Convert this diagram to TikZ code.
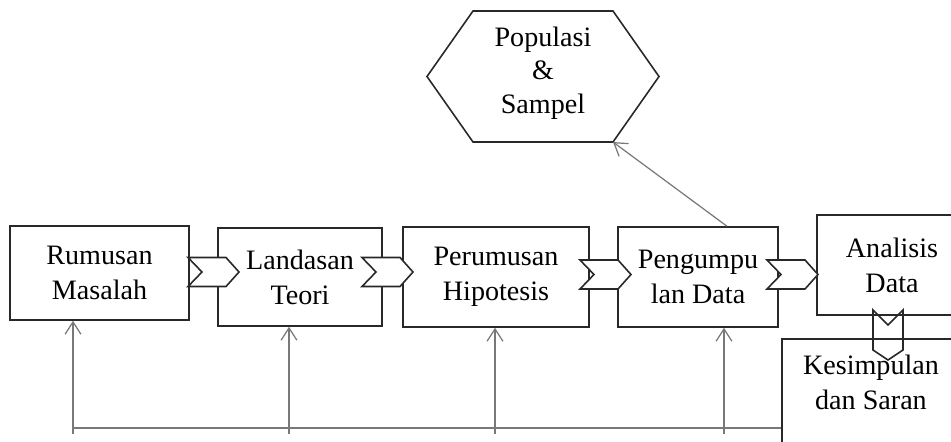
\documentclass[tikz,border=0pt]{standalone}
\usepackage{fontspec}
\setmainfont{Liberation Serif}
\usetikzlibrary{calc,arrows.meta}
\tikzset{>={Straight Barb[length=7pt,width=9pt]}}
\definecolor{mydark}{RGB}{40, 40, 40}
\definecolor{mygray}{RGB}{120, 120, 120}
\tikzset{
  box/.style = {draw = mydark, line width = 0.9pt, align = center, inner sep = 2pt,
                font = \fontsize{16}{20}\selectfont},
  chev/.style = {draw = mydark, line width = 0.9pt, fill = white},
  fb/.style = {draw = mygray, line width = 0.7pt},
  chevron/.pic = {\path[chev] (0,-14.5) -- (38,-14.5) -- (51,0) -- (38,14.5) -- (0,14.5) -- (14,0) -- cycle;},
  chevron down/.pic = {\path[chev, fill = none] (-15,0) -- (0,15) -- (15,0) -- (15,40) -- (0,50) -- (-15,40) -- cycle;}
}

\begin{document}
\begin{tikzpicture}[x = 0.02cm, y = -0.02cm]
\useasboundingbox (0,0) rectangle (951,441);
\clip (0,0) rectangle (951,441);
% the five steps
\node[box, minimum width = 3.58cm, minimum height = 1.88cm] (rm) at (99.5, 273) {Rumusan\\Masalah};
\node[box, minimum width = 3.28cm, minimum height = 1.96cm] (lt) at (300, 277) {Landasan\\Teori};
\node[box, minimum width = 3.72cm, minimum height = 2.0cm] (ph) at (496, 277) {Perumusan\\Hipotesis};
\node[box, minimum width = 3.2cm, minimum height = 2.0cm] (pd) at (698, 277) {Pengumpu\\lan Data};
\node[box, minimum width = 3.0cm, minimum height = 2.0cm] (ad) at (892, 265) {Analisis\\Data};
\node[box, anchor = north, minimum width = 3.56cm, inner ysep = 9pt, text depth = 1.3cm] (ks) at (871, 338) {Kesimpulan\\dan Saran};
% hexagon
\node[font = \fontsize{16}{19}\selectfont, align = center] (pop) at (543, 73) {Populasi\\\&\\Sampel};
\draw[mydark, line width = 0.9pt] (427,76.5) -- (473,11) -- (613,11) -- (659,76.5) -- (613,142) -- (473,142) -- cycle;
\coordinate (popbr) at (613,142);
\draw[fb, ->] ($(pd.north)+(29,0)$) -- (popbr);
% block arrows
\pic at (188,272) {chevron};
\pic at (362,272) {chevron};
\pic at (580,274.5) {chevron};
\pic at (767,274.5) {chevron};
\pic at (888,310) {chevron down};
% feedback lines
\coordinate (f1) at (73,434);
\coordinate (f2) at (289,434);
\coordinate (f3) at (495,434);
\coordinate (f4) at (724,434);
\coordinate (fl) at (73,428);
\draw[fb] (fl) -- (fl -| ks.west);
\draw[fb, ->] (f1) -- (f1 |- rm.south);
\draw[fb, ->] (f2) -- (f2 |- lt.south);
\draw[fb, ->] (f3) -- (f3 |- ph.south);
\draw[fb, ->] (f4) -- (f4 |- pd.south);
\end{tikzpicture}
\end{document}
